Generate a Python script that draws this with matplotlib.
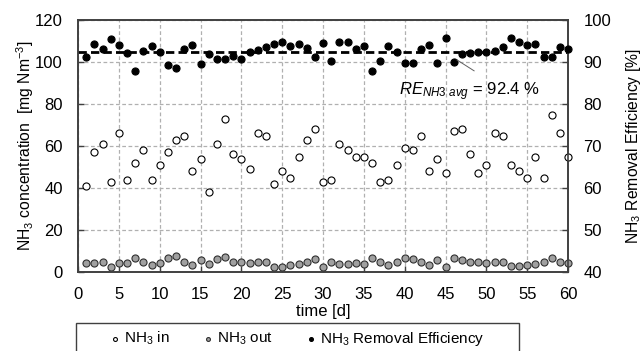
import matplotlib
matplotlib.use("Agg")
import matplotlib.pyplot as plt
from matplotlib.patches import Rectangle
import numpy as np

plt.rcParams['font.family'] = ['Liberation Sans', 'DejaVu Sans']
plt.rcParams['mathtext.fontset'] = 'custom'
plt.rcParams['mathtext.rm'] = 'Liberation Sans'
plt.rcParams['mathtext.it'] = 'Liberation Sans:italic'
plt.rcParams['font.size'] = 12

# data (days 1..60)
days = np.arange(1, 61)
nh3_in = [41, 57, 61, 43, 66, 44, 52, 58, 44, 51,
          57, 63, 65, 48, 54, 38, 61, 73, 56, 54,
          49, 66, 65, 42, 48, 45, 55, 63, 68, 43,
          44, 61, 58, 55, 55, 52, 43, 44, 51, 59,
          58, 65, 48, 54, 47, 67, 68, 56, 47, 51,
          66, 65, 51, 48, 45, 55, 45, 75, 66, 55]
nh3_out = [4.3, 4.3, 4.9, 2.2, 4.3, 4.3, 6.5, 4.6, 3.5, 4.3,
           6.5, 7.6, 4.9, 3.5, 5.8, 3.8, 6.0, 7.1, 4.9, 5.0,
           4.3, 4.9, 4.6, 2.4, 2.4, 3.3, 3.9, 4.6, 6.1, 2.2,
           4.6, 3.9, 3.9, 4.3, 3.9, 6.5, 4.6, 3.5, 4.6, 6.5,
           6.1, 4.6, 3.3, 5.8, 2.2, 6.9, 5.8, 5.0, 4.6, 4.3,
           5.0, 4.6, 2.7, 2.7, 3.5, 3.9, 4.6, 6.8, 4.6, 4.3]
removal_eff = [91.1, 94.4, 93.0, 95.4, 94.1, 92.1, 87.8, 92.7, 93.7, 92.3,
               89.4, 88.6, 93.0, 94.0, 89.6, 91.9, 90.8, 90.6, 91.5, 90.7,
               92.3, 92.8, 93.6, 94.4, 94.8, 93.8, 94.2, 93.4, 91.2, 94.6,
               90.2, 94.8, 94.7, 93.0, 93.9, 87.9, 90.2, 93.7, 92.4, 89.7,
               89.7, 93.0, 94.1, 89.7, 95.6, 89.9, 91.9, 92.1, 92.3, 92.5,
               92.7, 93.6, 95.6, 94.8, 94.0, 94.2, 91.1, 91.3, 93.6, 93.0]
re_avg = 92.4

fig = plt.figure(figsize=(6.44, 3.51), dpi=100)
ax = fig.add_axes([78/644, 1 - 272/351, 490/644, 252/351])
ax2 = ax.twinx()

spine_col = '#404040'
ms = 26
ax.scatter(days, nh3_in, s=ms, facecolor='white', edgecolor='black', linewidth=0.8,
           zorder=3, clip_on=False, label='NH$_3$ in')
ax.scatter(days, nh3_out, s=ms, facecolor='#a0a0a0', edgecolor='#303030', linewidth=0.8,
           zorder=3, clip_on=False, label='NH$_3$ out')
ax2.scatter(days, removal_eff, s=ms, facecolor='black', edgecolor='black', linewidth=0.8,
            zorder=3, clip_on=False, label='NH$_3$ Removal Efficiency')
ax2.plot([0, 60], [re_avg, re_avg], color='black', lw=2.0, dashes=(3, 1.5), zorder=2)

ax.set_xlim(0, 60)
ax.set_ylim(0, 120)
ax2.set_ylim(40, 100)
ax.set_xticks(range(0, 61, 5))
ax.set_yticks(range(0, 121, 20))
ax2.set_yticks(range(40, 101, 10))

ax.grid(True, color='#b0b0b0', linestyle=(0, (3, 2)), linewidth=0.9)
ax.set_axisbelow(True)

for a in (ax, ax2):
    for sp in a.spines.values():
        sp.set_color(spine_col)
        sp.set_linewidth(1.2)
    a.tick_params(direction='in', length=4, width=1.0, color=spine_col, pad=11, labelsize=12)
ax.tick_params(axis='x', pad=11)

ax.set_xlabel('time [d]', fontsize=12, labelpad=1)
ax.set_ylabel('NH$_3$ concentration  [mg Nm$^{-3}$]', fontsize=11.3, labelpad=-1)
ax2.set_ylabel('NH$_3$ Removal Efficiency [%]', fontsize=11.3, labelpad=9)

# average annotation
ax2.plot([46.4, 48.5], [90.5, 87.9], color='#606060', lw=0.7, zorder=4)
ax2.text(39.3, 83.0, r'$\mathit{RE}_{\mathit{NH3\ avg}}$ = 92.4 %', fontsize=12,
         ha='left', va='center', zorder=5)

# legend below the plot
handles = [ax.collections[0], ax.collections[1], ax2.collections[0]]
labels = [h.get_label() for h in handles]
fig.legend(handles, labels, loc='center', bbox_to_anchor=(297.5/644, 1 - 339/351),
           ncol=3, frameon=False, fontsize=11, markerscale=0.55, handlelength=0.6,
           handletextpad=0.3, columnspacing=2.2, borderpad=0.2)
fig.patches.append(Rectangle((76/644, -0.02), (519 - 76)/644, 1 - 323/351 + 0.02,
                             transform=fig.transFigure, fill=False,
                             edgecolor=spine_col, linewidth=1.0))

fig.savefig('out.png', dpi=100)
